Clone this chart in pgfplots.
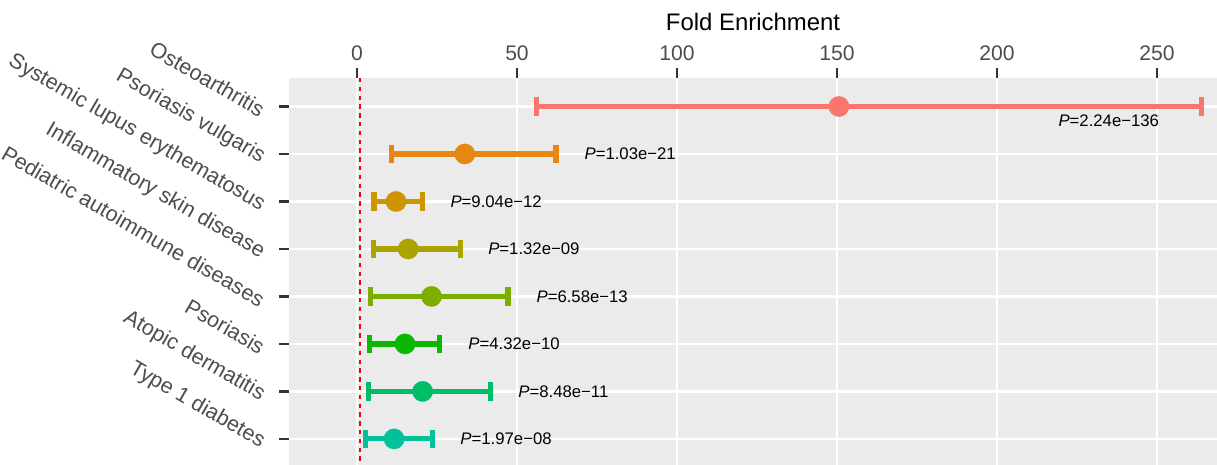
\documentclass[border=0pt]{standalone}
\usepackage{fontspec}
\setmainfont{Liberation Sans}
\usepackage{pgfplots}
\pgfplotsset{compat=1.18}
\definecolor{panel}{HTML}{EBEBEB}
\definecolor{tickc}{HTML}{333333}
\definecolor{labc}{HTML}{4D4D4D}
\definecolor{c1}{HTML}{F8766D}
\definecolor{c2}{HTML}{E68613}
\definecolor{c3}{HTML}{CD9600}
\definecolor{c4}{HTML}{ABA300}
\definecolor{c5}{HTML}{7CAE00}
\definecolor{c6}{HTML}{0CB702}
\definecolor{c7}{HTML}{00BE67}
\definecolor{c8}{HTML}{00C19A}
\pgfplotsset{
  eb/.style={color=#1, line width=2.6bp, mark=*, mark size=5.1bp,
    mark options={solid, fill=#1, draw=#1, line width=0.1bp},
    error bars/.cd, x dir=both, x explicit,
    error bar style={line width=2.6bp, color=#1},
    error mark options={rotate=90, line width=2.6bp, mark size=4.6bp, draw=#1, solid}},
}
\begin{document}
\begin{tikzpicture}
\begin{axis}[
  scale only axis,
  width=464bp, height=193.5bp,
  xmin=-21.25, xmax=268.75,
  ymin=0.4, ymax=8.55,
  y dir=reverse,
  axis line style={draw=none},
  axis background/.style={fill=panel},
  grid=major,
  major grid style={white, line width=1.2bp},
  tick align=outside,
  major tick length=5bp,
  every tick/.style={tickc, line width=1.2bp},
  xtick pos=upper, xticklabel pos=upper,
  ytick pos=lower,
  xtick={0,50,100,150,200,250},
  ytick={1,2,3,4,5,6,7,8},
  yticklabels={Osteoarthritis, Psoriasis vulgaris, Systemic lupus erythematosus, Inflammatory skin disease, Pediatric autoimmune diseases, Psoriasis, Atopic dermatitis, Type 1 diabetes},
  /pgf/number format/assume math mode=true,
  xticklabel style={font=\fontsize{10.6}{12}\selectfont, text=labc},
  yticklabel style={font=\fontsize{10.8}{12}\selectfont, text=labc, xshift=-5bp, yshift=-4bp, rotate=-30, anchor=east},
  xlabel={Fold Enrichment},
  xlabel style={font=\fontsize{12}{14}\selectfont, text=black, yshift=1bp},
  clip=false,
]
\addplot[red, line width=1.1bp, dash pattern=on 2.2bp off 2.2bp] coordinates {(1,0.4) (1,8.55)};
\addplot[eb=c1] coordinates {(150.6,1) += (113.4,0) -= (94.5,0)};
\addplot[eb=c2] coordinates {(33.7,2) += (28.5,0) -= (22.8,0)};
\addplot[eb=c3] coordinates {(12.2,3) += (8.2,0) -= (6.9,0)};
\addplot[eb=c4] coordinates {(16.0,4) += (16.4,0) -= (10.9,0)};
\addplot[eb=c5] coordinates {(23.3,5) += (23.9,0) -= (19.2,0)};
\addplot[eb=c6] coordinates {(15.0,6) += (10.9,0) -= (11.15,0)};
\addplot[eb=c7] coordinates {(20.5,7) += (21.1,0) -= (17.0,0)};
\addplot[eb=c8] coordinates {(11.6,8) += (11.9,0) -= (9.0,0)};
\begin{scope}[every node/.style={anchor=west, inner sep=0pt, font=\fontsize{8.4}{10}\selectfont, text=black}]
\node at (axis cs:219.1,1.29) {\textit{P}=2.24e−136};
\node at (axis cs:71.0,2) {\textit{P}=1.03e−21};
\node at (axis cs:29.1,3) {\textit{P}=9.04e−12};
\node at (axis cs:40.9,4) {\textit{P}=1.32e−09};
\node at (axis cs:56.0,5) {\textit{P}=6.58e−13};
\node at (axis cs:34.7,6) {\textit{P}=4.32e−10};
\node at (axis cs:50.3,7) {\textit{P}=8.48e−11};
\node at (axis cs:32.2,8) {\textit{P}=1.97e−08};
\end{scope}
\end{axis}
\pgfresetboundingbox
\path ([xshift=-144.5bp]current axis.south west) rectangle ([yshift=39bp]current axis.north east);
\end{tikzpicture}
\end{document}
